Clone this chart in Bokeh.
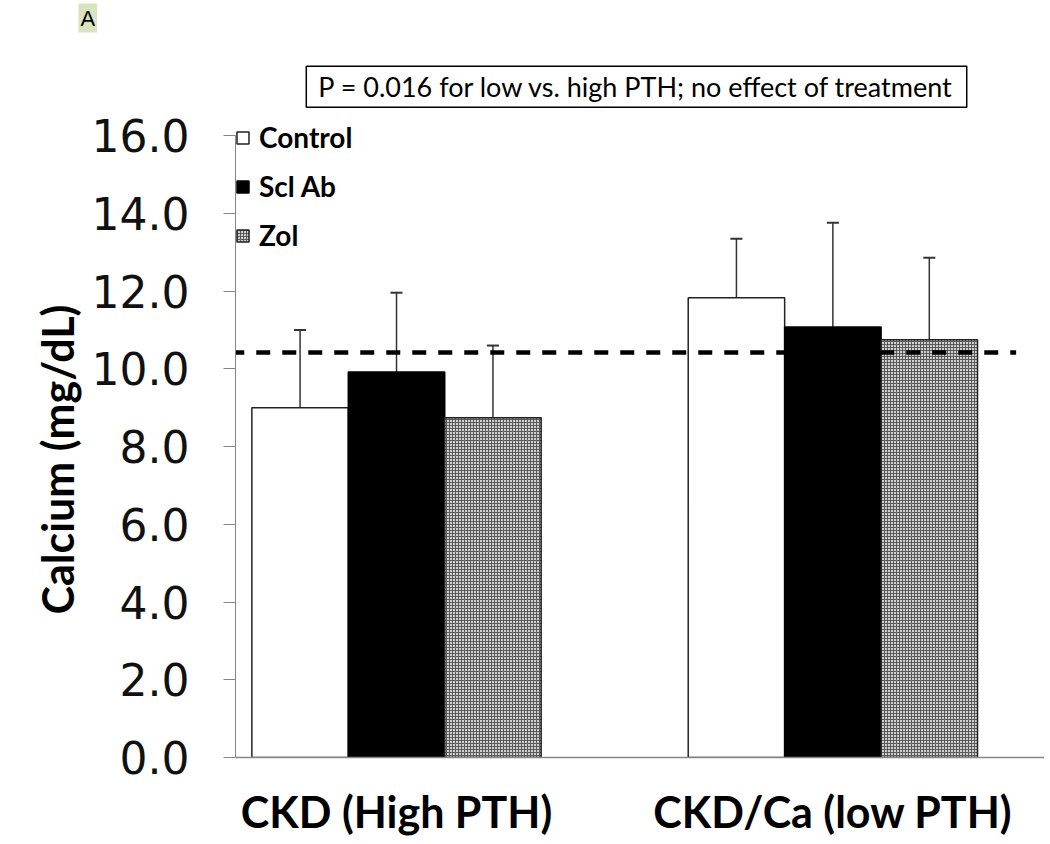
from bokeh.plotting import figure
from bokeh.models import (Range1d, FixedTicker, NumeralTickFormatter, Whisker, TeeHead,
                          ColumnDataSource, Legend, LegendItem, Label, Title)
from bokeh.embed import file_html
from bokeh.resources import INLINE

# ---- data ----
groups = ["CKD (High PTH)", "CKD/Ca (low PTH)"]
series = ["Control", "Scl Ab", "Zol"]
control = [9.0, 11.83]
control_err = [2.0, 1.52]
scl_ab = [9.92, 11.08]
scl_ab_err = [2.04, 2.68]
zol = [8.74, 10.75]
zol_err = [1.86, 2.11]
ref_level = 10.42
y_ticks = [0, 2, 4, 6, 8, 10, 12, 14, 16]
y_label = "Calcium  (mg/dL)"
note_text = "P = 0.016 for low vs. high PTH; no effect of treatment"
panel_tag = "A"

# ---- layout ----
W, H = 1044, 840
bar_w = 0.221
offsets = [-bar_w, 0.0, bar_w]
x_start, x_end = -0.369, 1.485
y_end = 18.63

p = figure(width=W, height=H, output_backend="svg", toolbar_location=None,
           x_range=Range1d(x_start, x_end), y_range=Range1d(0, y_end),
           min_border_left=235, min_border_right=0, min_border_top=0,
           min_border_bottom=83)
p.outline_line_color = None
p.xgrid.visible = False
p.ygrid.visible = False
p.background_fill_color = "white"
p.border_fill_color = "white"

p.add_layout(Title(text=panel_tag, align="left", offset=-157, standoff=2,
                   text_font="Liberation Sans", text_font_style="normal",
                   text_font_size="22px", text_color="black",
                   background_fill_color="#d7e4bd", padding=2), "above")

styles = [
    dict(fill_color="white", line_color="#222222"),
    dict(fill_color="black", line_color="black"),
    dict(fill_color="#d0d0d0", line_color="#222222", hatch_pattern="cross",
         hatch_scale=3, hatch_color="#5a5a5a", hatch_weight=1),
]
vals = [control, scl_ab, zol]
errs = [control_err, scl_ab_err, zol_err]
gx = list(range(len(groups)))

renderers = []
for i, (v, e, st) in enumerate(zip(vals, errs, styles)):
    xs = [g + offsets[i] for g in gx]
    src = ColumnDataSource(dict(x=xs, top=v, upper=[a + b for a, b in zip(v, e)]))
    r = p.vbar(x="x", top="top", width=bar_w, bottom=0, source=src, line_width=1.5, **st)
    renderers.append(r)
    w = Whisker(source=src, base="x", lower="top", upper="upper", dimension="height",
                line_color="#333333", line_width=1.5,
                upper_head=TeeHead(size=12, line_color="#333333", line_width=2),
                lower_head=None)
    p.add_layout(w)

# reference dashed line
p.segment(x0=[-0.381], x1=[1.42], y0=[ref_level], y1=[ref_level],
          line_color="black", line_width=4.5, line_dash="14 12")

# axes
ya = p.yaxis[0]
ya.bounds = (0, 16)
ya.ticker = FixedTicker(ticks=y_ticks)
ya.formatter = NumeralTickFormatter(format="0.0")
ya.axis_line_color = "#868686"
ya.major_tick_line_color = "#868686"
ya.major_tick_out = 12
ya.major_tick_in = 0
ya.minor_tick_line_color = None
ya.major_label_text_font = "DejaVu Sans"
ya.major_label_text_font_size = "44px"
ya.major_label_text_color = "#111111"
ya.major_label_standoff = 34

# y-axis title as a side title (so it can be centred on the 0-16 span)
p.add_layout(Title(text=y_label, align="left", offset=143, standoff=12,
                   text_font="Lato", text_font_style="bold",
                   text_font_size="43px", text_color="black"), "left")

xa = p.xaxis[0]
xa.ticker = FixedTicker(ticks=gx)
xa.major_label_overrides = {g: name for g, name in zip(gx, groups)}
xa.axis_line_color = "#868686"
xa.axis_line_width = 1.5
xa.major_tick_line_color = None
xa.minor_tick_line_color = None
xa.major_label_text_font = "Lato"
xa.major_label_text_font_style = "bold"
xa.major_label_text_font_size = "43px"
xa.major_label_text_color = "black"
xa.major_label_standoff = 22

# legend
items = [LegendItem(label=s, renderers=[r]) for s, r in zip(series, renderers)]
leg = Legend(items=items, location=(0, 505), orientation="vertical",
             glyph_width=15, glyph_height=15, label_standoff=9, spacing=15,
             padding=0, margin=0, border_line_color=None, background_fill_alpha=0,
             label_text_font="Lato", label_text_font_style="bold",
             label_text_font_size="28px", label_text_color="black")
p.add_layout(leg)

# note box
p.add_layout(Label(x=0.55, y=17.26, text=note_text, text_align="center",
                   text_baseline="middle", text_font="Lato",
                   text_font_size="27px", text_color="black",
                   border_line_color="black", border_line_width=1.5,
                   background_fill_color="white", padding=(12, 4)))

open("out.html", "w").write(file_html(p, INLINE))
